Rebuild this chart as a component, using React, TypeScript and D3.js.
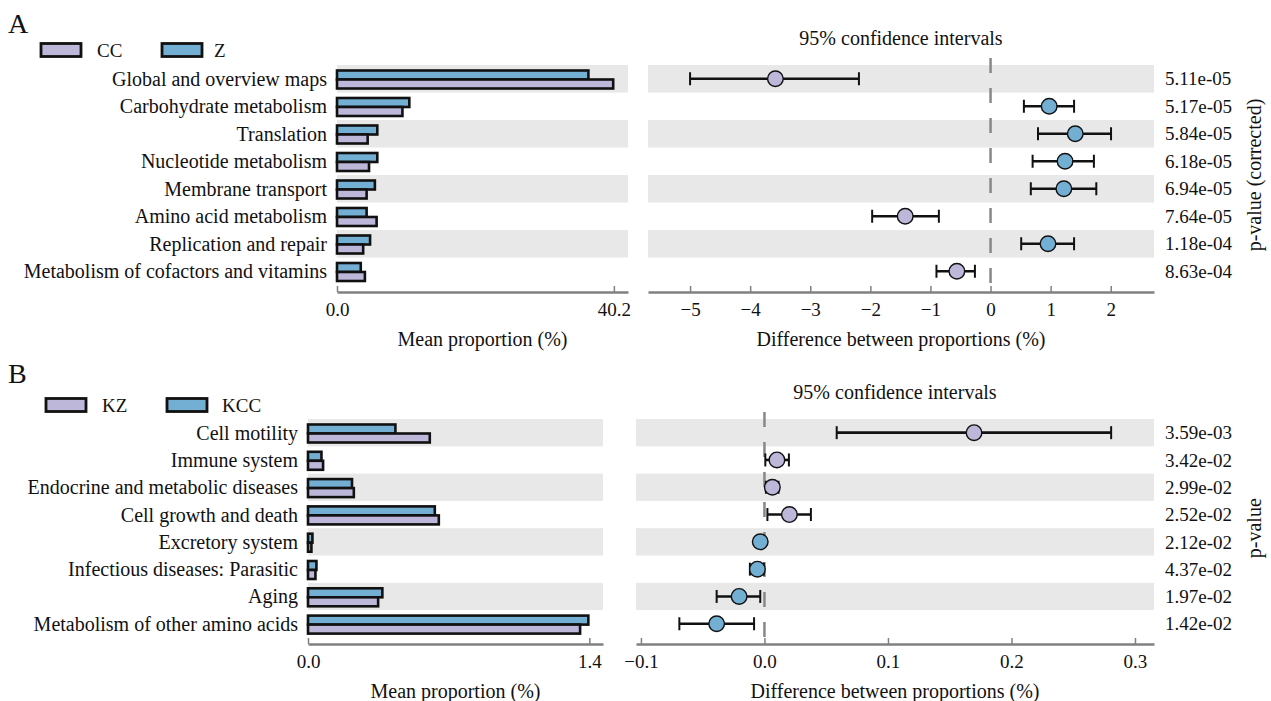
import { useRef, useEffect } from 'react';
import * as d3 from 'd3';

// panel A: KEGG level 2, CC vs Z
const catsA = [
  'Global and overview maps',
  'Carbohydrate metabolism',
  'Translation',
  'Nucleotide metabolism',
  'Membrane transport',
  'Amino acid metabolism',
  'Replication and repair',
  'Metabolism of cofactors and vitamins',
];
const ccA = [40.1, 9.5, 4.45, 4.65, 4.3, 5.75, 3.8, 4.05];
const zA = [36.5, 10.5, 5.85, 5.85, 5.5, 4.3, 4.8, 3.45];
const diffA = [-3.58, 0.976, 1.41, 1.24, 1.22, -1.42, 0.956, -0.56];
const loA = [-5.0, 0.555, 0.79, 0.7, 0.67, -1.97, 0.51, -0.9];
const hiA = [-2.19, 1.39, 2.005, 1.72, 1.76, -0.86, 1.39, -0.26];
const pA = ['5.11e-05', '5.17e-05', '5.84e-05', '6.18e-05', '6.94e-05', '7.64e-05', '1.18e-04', '8.63e-04'];
const barTicksA = [0, 40.2];
const ciTicksA = [-5, -4, -3, -2, -1, 0, 1, 2];

// panel B: KZ vs KCC
const catsB = [
  'Cell motility',
  'Immune system',
  'Endocrine and metabolic diseases',
  'Cell growth and death',
  'Excretory system',
  'Infectious diseases: Parasitic',
  'Aging',
  'Metabolism of other amino acids',
];
const kzB = [0.606, 0.075, 0.228, 0.651, 0.017, 0.037, 0.349, 1.354];
const kccB = [0.435, 0.067, 0.219, 0.631, 0.022, 0.042, 0.37, 1.395];
const diffB = [0.1697, 0.0101, 0.0064, 0.0202, -0.0034, -0.0057, -0.0205, -0.0387];
const loB = [0.0585, 0.0007, 0.0012, 0.0024, -0.006, -0.0118, -0.0387, -0.0689];
const hiB = [0.2807, 0.0198, 0.0114, 0.0376, -0.0008, -0.0005, -0.0034, -0.0084];
const pB = ['3.59e-03', '3.42e-02', '2.99e-02', '2.52e-02', '2.12e-02', '4.37e-02', '1.97e-02', '1.42e-02'];
const barTicksB = [0, 1.4];
const ciTicksB = [-0.1, 0, 0.1, 0.2, 0.3];

const PURPLE = '#bdb7da';
const BLUE = '#73aed3';
const BAND = '#e8e8e8';
const AXIS = '#808080';
const FONT = "'Liberation Serif', 'Times New Roman', serif";

type PanelProps = {
  letter: string;
  letterY: number;
  names: [string, string]; // [purple, blue]
  legendY: number;
  legendX: [number, number, number, number]; // rect1, text1, rect2, text2
  cats: string[];
  purple: number[];
  blue: number[];
  diff: number[];
  lo: number[];
  hi: number[];
  pvals: string[];
  pTitle: string;
  top: number;
  pitch: number;
  axisY: number;
  barRange: [number, number];
  barMax: number;
  barTicks: number[];
  ciRange: [number, number];
  ciDomain: [number, number];
  ciTicks: number[];
  ciFormat: string;
  labelX: number;
};

function Axis({ scale, y, ticks, fmt }: { scale: d3.ScaleLinear<number, number>; y: number; ticks: number[]; fmt: string }) {
  const ref = useRef<SVGGElement>(null);
  useEffect(() => {
    if (!ref.current) return;
    const g = d3.select(ref.current);
    g.call(
      d3.axisBottom(scale).tickValues(ticks).tickFormat(d3.format(fmt) as any).tickSizeInner(-6).tickSizeOuter(0).tickPadding(11),
    );
    g.attr('font-family', FONT).attr('font-size', 19);
    g.select('.domain').attr('stroke', AXIS).attr('stroke-width', 2.5);
    g.selectAll('.tick line').attr('stroke', AXIS).attr('stroke-width', 1.5);
    g.selectAll('.tick text').attr('fill', '#111');
  }, [scale, ticks, fmt]);
  return <g ref={ref} transform={`translate(0, ${y})`} />;
}

function Panel(p: PanelProps) {
  const n = p.cats.length;
  const y = d3.scaleBand(p.cats, [p.top, p.top + n * p.pitch]);
  const sub = d3.scaleBand(['blue', 'purple'], [5.5, 23.5]).padding(0);
  const xb = d3.scaleLinear([0, p.barMax], p.barRange);
  const xc = d3.scaleLinear(p.ciDomain, p.ciRange);
  const bw = y.bandwidth();
  const mid = (p.ciRange[0] + p.ciRange[1]) / 2;
  const barMid = (p.barRange[0] + p.barRange[1]) / 2;

  return (
    <g fontFamily={FONT} fontSize={19} fill="#111">
      <text x={8} y={p.letterY} fontSize={28} dy="0.35em">{p.letter}</text>

      {/* legend */}
      <rect x={p.legendX[0]} y={p.legendY - 6.5} width={40} height={13} fill={PURPLE} stroke="#111" strokeWidth={2.8} />
      <text x={p.legendX[1]} y={p.legendY} dy="0.35em">{p.names[0]}</text>
      <rect x={p.legendX[2]} y={p.legendY - 6.5} width={40} height={13} fill={BLUE} stroke="#111" strokeWidth={2.8} />
      <text x={p.legendX[3]} y={p.legendY} dy="0.35em">{p.names[1]}</text>

      {/* row bands */}
      {p.cats.map((c, i) =>
        i % 2 === 0 ? (
          <g key={'b' + c}>
            <rect x={p.barRange[0]} y={y(c)} width={p.barRange[1] - p.barRange[0]} height={bw} fill={BAND} />
            <rect x={p.ciRange[0]} y={y(c)} width={p.ciRange[1] - p.ciRange[0]} height={bw} fill={BAND} />
          </g>
        ) : null,
      )}

      {/* category labels and bars */}
      {p.cats.map((c, i) => (
        <g key={'r' + c}>
          <text x={p.labelX} y={(y(c) ?? 0) + bw / 2} dy="0.35em" fontSize={20} textAnchor="end">{c}</text>
          <rect x={xb(0)} y={(y(c) ?? 0) + (sub('blue') ?? 0)} width={xb(p.blue[i]) - xb(0)} height={sub.bandwidth()} fill={BLUE} stroke="#111" strokeWidth={2.6} />
          <rect x={xb(0)} y={(y(c) ?? 0) + (sub('purple') ?? 0)} width={xb(p.purple[i]) - xb(0)} height={sub.bandwidth()} fill={PURPLE} stroke="#111" strokeWidth={2.6} />
        </g>
      ))}

      {/* zero line */}
      <line x1={xc(0)} x2={xc(0)} y1={p.top - 7} y2={p.axisY - 6} stroke="#888" strokeWidth={2.5} strokeDasharray="15 15" />

      {/* confidence intervals */}
      {p.cats.map((c, i) => {
        const cy = (y(c) ?? 0) + bw / 2;
        return (
          <g key={'c' + c}>
            <line x1={xc(p.lo[i])} x2={xc(p.hi[i])} y1={cy} y2={cy} stroke="#111" strokeWidth={2.6} />
            <line x1={xc(p.lo[i])} x2={xc(p.lo[i])} y1={cy - 6.5} y2={cy + 6.5} stroke="#111" strokeWidth={2} />
            <line x1={xc(p.hi[i])} x2={xc(p.hi[i])} y1={cy - 6.5} y2={cy + 6.5} stroke="#111" strokeWidth={2} />
            <circle cx={xc(p.diff[i])} cy={cy} r={7.8} fill={p.purple[i] > p.blue[i] ? PURPLE : BLUE} stroke="#111" strokeWidth={1.4} />
            <text x={1165} y={cy} dy="0.35em">{p.pvals[i]}</text>
          </g>
        );
      })}

      <text x={mid} y={p.top - 27} dy="0.35em" fontSize={20} textAnchor="middle">95% confidence intervals</text>
      <text transform={`translate(1254, ${p.top + (n * p.pitch) / 2}) rotate(-90)`} dy="0.35em" fontSize={20} textAnchor="middle">{p.pTitle}</text>

      <Axis scale={xb} y={p.axisY} ticks={p.barTicks} fmt=".1f" />
      <Axis scale={xc} y={p.axisY} ticks={p.ciTicks} fmt={p.ciFormat} />

      <text x={barMid} y={p.axisY + 47} dy="0.35em" fontSize={20} textAnchor="middle">Mean proportion (%)</text>
      <text x={mid} y={p.axisY + 47} dy="0.35em" fontSize={20} textAnchor="middle">Difference between proportions (%)</text>
    </g>
  );
}

export default function App() {
  return (
    <svg width={1271} height={701} style={{ position: 'absolute', left: 0, top: 0, background: '#fff' }}>
      <Panel
        letter="A"
        letterY={23}
        names={['CC', 'Z']}
        legendY={50}
        legendX={[41, 97, 162, 214]}
        cats={catsA}
        purple={ccA}
        blue={zA}
        diff={diffA}
        lo={loA}
        hi={hiA}
        pvals={pA}
        pTitle="p-value (corrected)"
        top={65}
        pitch={27.5}
        axisY={292}
        barRange={[337, 628]}
        barMax={42.25}
        barTicks={barTicksA}
        ciRange={[648, 1154]}
        ciDomain={[-5.7, 2.72]}
        ciTicks={ciTicksA}
        ciFormat="d"
        labelX={327}
      />
      <Panel
        letter="B"
        letterY={373}
        names={['KZ', 'KCC']}
        legendY={405}
        legendX={[46, 102, 167, 222]}
        cats={catsB}
        purple={kzB}
        blue={kccB}
        diff={diffB}
        lo={loB}
        hi={hiB}
        pvals={pB}
        pTitle="p-value"
        top={419}
        pitch={27.3}
        axisY={644}
        barRange={[308, 603]}
        barMax={1.468}
        barTicks={barTicksB}
        ciRange={[636, 1154]}
        ciDomain={[-0.104, 0.3154]}
        ciTicks={ciTicksB}
        ciFormat=".1f"
        labelX={298}
      />
    </svg>
  );
}
